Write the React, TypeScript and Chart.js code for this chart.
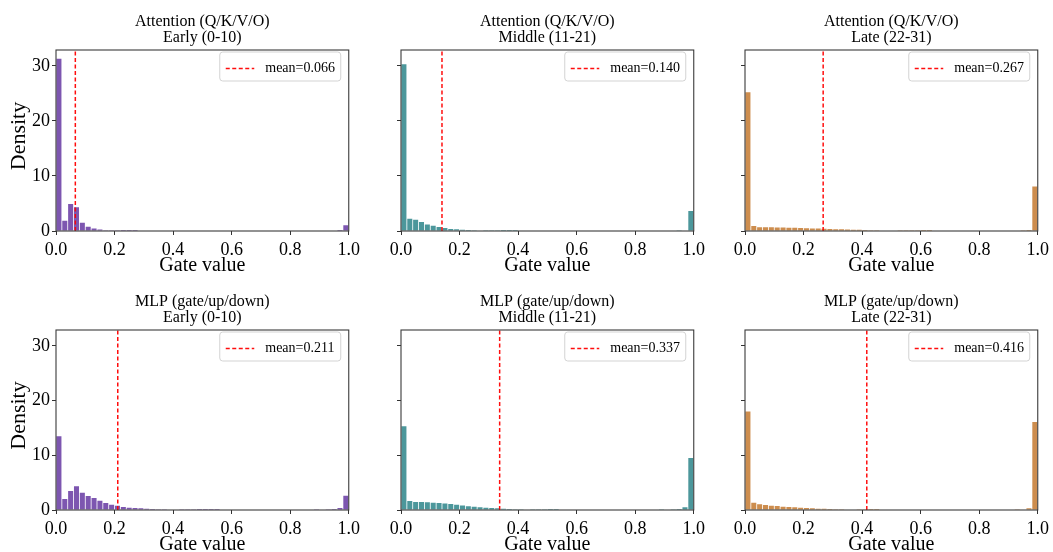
import React, { useEffect, useRef } from "react";
import { Chart, registerables } from "chart.js";

Chart.register(...registerables);

// ---------------- data ----------------
const BIN_COUNT = 50;
const X_TICKS = [0, 0.2, 0.4, 0.6, 0.8, 1.0];
const Y_TICKS = [0, 10, 20, 30];
const Y_MAX = 32.9;

const ROW_TITLES = ["Attention (Q/K/V/O)", "MLP (gate/up/down)"];
const COL_TITLES = ["Early (0-10)", "Middle (11-21)", "Late (22-31)"];
const COL_COLORS = ["#7d56b0", "#4c979b", "#cd8d4e"];

const attnEarly = [
  31.33, 1.85, 4.9, 4.3, 1.5, 0.75, 0.45, 0.25, 0.12, 0.06,
  0.03, 0.02, 0.01, 0.01, 0, 0, 0, 0, 0, 0,
  0, 0, 0, 0, 0, 0, 0, 0, 0, 0,
  0, 0, 0, 0, 0, 0, 0, 0, 0, 0,
  0, 0, 0, 0, 0, 0, 0, 0, 0.02, 1.05,
];
const attnMiddle = [
  30.3, 2.24, 2.06, 1.64, 1.2, 0.97, 0.73, 0.55, 0.38, 0.3,
  0.24, 0.18, 0.12, 0.09, 0.06, 0.04, 0.03, 0.02, 0.02, 0.01,
  0, 0, 0, 0, 0, 0, 0, 0, 0, 0,
  0, 0, 0, 0, 0, 0, 0, 0, 0, 0,
  0, 0, 0, 0, 0, 0, 0, 0.03, 0.1, 3.64,
];
const attnLate = [
  25.2, 0.9, 0.68, 0.67, 0.66, 0.65, 0.63, 0.61, 0.58, 0.55,
  0.5, 0.47, 0.44, 0.4, 0.36, 0.33, 0.3, 0.27, 0.24, 0.21,
  0.18, 0.15, 0.13, 0.11, 0.09, 0.07, 0.06, 0.05, 0.04, 0.03,
  0.02, 0.01, 0, 0, 0, 0, 0, 0, 0, 0,
  0, 0, 0, 0, 0, 0, 0, 0.05, 0.2, 8.1,
];
const mlpEarly = [
  13.5, 2.0, 3.45, 4.36, 3.15, 2.55, 2.2, 1.7, 1.27, 0.97,
  0.79, 0.55, 0.42, 0.36, 0.3, 0.24, 0.18, 0.15, 0.12, 0.09,
  0.07, 0.05, 0.04, 0.03, 0.02, 0.02, 0.01, 0.01, 0, 0,
  0, 0, 0, 0, 0, 0, 0, 0, 0, 0,
  0, 0, 0, 0, 0.05, 0.08, 0.12, 0.18, 0.38, 2.6,
];
const mlpMiddle = [
  15.3, 1.64, 1.45, 1.45, 1.4, 1.33, 1.27, 1.2, 1.1, 0.97,
  0.8, 0.67, 0.6, 0.5, 0.4, 0.36, 0.3, 0.24, 0.18, 0.15,
  0.12, 0.08, 0.05, 0.04, 0.03, 0.02, 0.01, 0, 0, 0,
  0, 0, 0, 0, 0, 0, 0, 0, 0, 0,
  0, 0, 0, 0, 0.05, 0.1, 0.15, 0.2, 0.5, 9.5,
];
const mlpLate = [
  18.0, 1.33, 1.03, 0.9, 0.79, 0.73, 0.6, 0.55, 0.48, 0.42,
  0.36, 0.3, 0.24, 0.22, 0.18, 0.15, 0.12, 0.1, 0.08, 0.05,
  0.03, 0.02, 0.01, 0, 0, 0, 0, 0, 0, 0,
  0, 0, 0, 0, 0, 0, 0, 0, 0, 0,
  0, 0, 0, 0, 0, 0, 0.05, 0.1, 0.3, 16.1,
];

const SERIES = [
  [attnEarly, attnMiddle, attnLate],
  [mlpEarly, mlpMiddle, mlpLate],
];
const MEANS = [
  [0.066, 0.14, 0.267],
  [0.211, 0.337, 0.416],
];

// ---------------- layout ----------------
const FONT = '"Liberation Serif", "Times New Roman", serif';
const PLOT_LEFTS = [56, 401, 745];
const PLOT_W = 296;
const Y_AXIS_W = 56;
const RIGHT_PAD = 12;
const CANVAS_W = Y_AXIS_W + PLOT_W + RIGHT_PAD;
const ROW_TOPS = [0, 280];
const CANVAS_HS = [280, 272];
const PLOT_TOP = 50;
const PLOT_HS = [181, 180];
const MEAN_RED = "rgba(255,0,0,0.95)";

const binCenters = Array.from({ length: BIN_COUNT }, (_, i) => (i + 0.5) / BIN_COUNT);

function Panel({ row, col }: { row: number; col: number }) {
  const ref = useRef<HTMLCanvasElement | null>(null);
  useEffect(() => {
    const canvas = ref.current;
    if (!canvas) return;
    const values = SERIES[row][col];
    const mean = MEANS[row][col];
    const color = COL_COLORS[col];
    const canvasH = CANVAS_HS[row];
    const xAxisH = canvasH - PLOT_TOP - PLOT_HS[row];

    const decor = {
      id: "decor",
      afterDatasetsDraw(chart: any) {
        const { ctx, chartArea } = chart;
        ctx.save();
        ctx.strokeStyle = "#3a3a3a";
        ctx.lineWidth = 1.1;
        ctx.strokeRect(chartArea.left, chartArea.top, chartArea.right - chartArea.left, chartArea.bottom - chartArea.top);
        ctx.restore();
      },
      afterDraw(chart: any) {
        const { ctx, chartArea } = chart;
        const cx = (chartArea.left + chartArea.right) / 2;
        ctx.save();
        ctx.fillStyle = "#000";
        ctx.textAlign = "center";
        ctx.textBaseline = "middle";
        ctx.font = `16px ${FONT}`;
        ctx.fillText(ROW_TITLES[row], cx, 21.7);
        ctx.fillText(COL_TITLES[col], cx, 37.3);
        ctx.font = `20px ${FONT}`;
        ctx.fillText("Gate value", cx, chartArea.bottom + 35);
        if (col === 0) {
          ctx.save();
          ctx.font = `22px ${FONT}`;
          ctx.textBaseline = "alphabetic";
          ctx.translate(25, (chartArea.top + chartArea.bottom) / 2 - 4.5);
          ctx.rotate(-Math.PI / 2);
          ctx.fillText("Density", 0, 0);
          ctx.restore();
        }
        // legend
        const label = chart.data.datasets[1].label as string;
        const bx = chartArea.right - 129;
        const by = chartArea.top + 2;
        const bw = 121;
        const bh = 29;
        const r = 3;
        ctx.beginPath();
        ctx.moveTo(bx + r, by);
        ctx.lineTo(bx + bw - r, by);
        ctx.quadraticCurveTo(bx + bw, by, bx + bw, by + r);
        ctx.lineTo(bx + bw, by + bh - r);
        ctx.quadraticCurveTo(bx + bw, by + bh, bx + bw - r, by + bh);
        ctx.lineTo(bx + r, by + bh);
        ctx.quadraticCurveTo(bx, by + bh, bx, by + bh - r);
        ctx.lineTo(bx, by + r);
        ctx.quadraticCurveTo(bx, by, bx + r, by);
        ctx.closePath();
        ctx.fillStyle = "rgba(255,255,255,0.8)";
        ctx.fill();
        ctx.strokeStyle = "#d3d3d3";
        ctx.lineWidth = 1;
        ctx.stroke();
        ctx.beginPath();
        ctx.setLineDash([4, 2.5]);
        ctx.strokeStyle = MEAN_RED;
        ctx.lineWidth = 1.5;
        ctx.moveTo(bx + 6, by + 16.5);
        ctx.lineTo(bx + 34.5, by + 16.5);
        ctx.stroke();
        ctx.setLineDash([]);
        ctx.fillStyle = "#000";
        ctx.textAlign = "left";
        ctx.textBaseline = "middle";
        ctx.font = `14px ${FONT}`;
        ctx.fillText(label, bx + 45.5, by + 16.5);
        ctx.restore();
      },
    };

    const chart = new Chart(canvas, {
      type: "bar",
      data: {
        datasets: [
          {
            type: "bar",
            label: "density",
            data: binCenters.map((x, i) => ({ x, y: values[i] })),
            backgroundColor: color,
            borderWidth: 0,
            barPercentage: 0.86,
            categoryPercentage: 1,
            order: 2,
          } as any,
          {
            type: "line",
            label: `mean=${mean.toFixed(3)}`,
            data: [
              { x: mean, y: 0 },
              { x: mean, y: Y_MAX },
            ],
            borderColor: MEAN_RED,
            borderWidth: 1.5,
            borderDash: [4, 2.5],
            pointRadius: 0,
            fill: false,
            order: 1,
          } as any,
        ],
      },
      options: {
        responsive: false,
        animation: false,
        events: [],
        layout: { padding: { left: 0, top: PLOT_TOP, right: RIGHT_PAD, bottom: 0 } },
        plugins: {
          legend: { display: false },
          title: { display: false },
          tooltip: { enabled: false },
        },
        scales: {
          x: {
            type: "linear",
            min: 0,
            max: 1,
            offset: false,
            afterBuildTicks: (s: any) => {
              s.ticks = X_TICKS.map((v) => ({ value: v }));
            },
            afterFit: (s: any) => {
              s.height = xAxisH;
            },
            ticks: {
              autoSkip: false,
              maxRotation: 0,
              padding: 4,
              color: "#000",
              font: { family: FONT, size: 18 },
              callback: (v: any) => Number(v).toFixed(1),
            },
            grid: {
              drawOnChartArea: false,
              drawTicks: true,
              tickLength: 4,
              tickColor: "#333",
              offset: false,
            },
            border: { display: false },
          },
          y: {
            type: "linear",
            min: 0,
            max: Y_MAX,
            afterBuildTicks: (s: any) => {
              s.ticks = Y_TICKS.map((v) => ({ value: v }));
            },
            afterFit: (s: any) => {
              s.width = Y_AXIS_W;
            },
            ticks: {
              padding: 2,
              color: "#000",
              font: { family: FONT, size: 18 },
              callback: (v: any) => (col === 0 ? String(v) : ""),
            },
            grid: {
              drawOnChartArea: false,
              drawTicks: true,
              tickLength: 4,
              tickColor: "#333",
            },
            border: { display: false },
          },
        },
      } as any,
      plugins: [decor],
    });
    return () => chart.destroy();
  }, [row, col]);

  return (
    <canvas
      ref={ref}
      width={CANVAS_W}
      height={CANVAS_HS[row]}
      style={{
        position: "absolute",
        left: PLOT_LEFTS[col] - Y_AXIS_W,
        top: ROW_TOPS[row],
        width: CANVAS_W,
        height: CANVAS_HS[row],
      }}
    />
  );
}

export default function App() {
  const panels: React.ReactNode[] = [];
  for (let r = 0; r < 2; r++) {
    for (let c = 0; c < 3; c++) {
      panels.push(<Panel key={`${r}-${c}`} row={r} col={c} />);
    }
  }
  return (
    <div
      style={{
        position: "fixed",
        left: 0,
        top: 0,
        width: 1053,
        height: 552,
        background: "#fff",
        overflow: "hidden",
      }}
    >
      {panels}
    </div>
  );
}
